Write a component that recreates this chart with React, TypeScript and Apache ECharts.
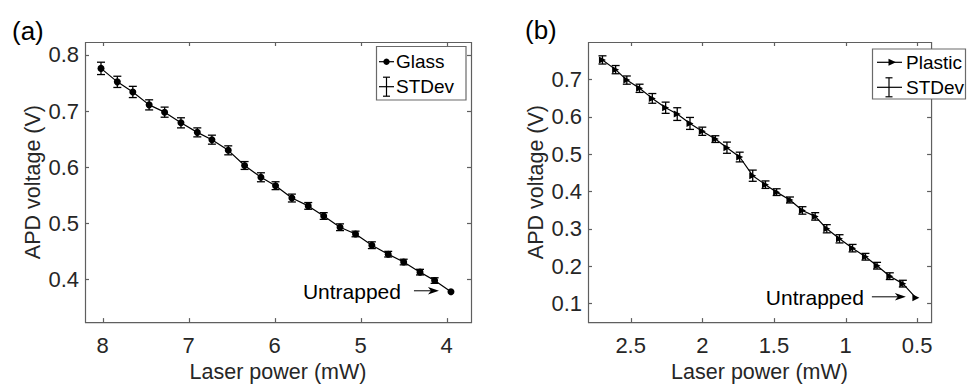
import React, { useEffect, useRef } from "react";
import * as echarts from "echarts";

// Panel (a): glass particle
const glassPower = [8.02, 7.83, 7.65, 7.46, 7.28, 7.09, 6.9, 6.73, 6.54, 6.35, 6.16, 5.99, 5.8, 5.61, 5.43, 5.24, 5.06, 4.87, 4.68, 4.5, 4.31, 4.14, 3.95];
const glassVoltage = [0.776, 0.752, 0.734, 0.711, 0.698, 0.679, 0.662, 0.649, 0.63, 0.603, 0.582, 0.567, 0.545, 0.531, 0.513, 0.493, 0.481, 0.461, 0.445, 0.431, 0.413, 0.398, 0.378];
const glassStd = [0.011, 0.01, 0.01, 0.009, 0.009, 0.009, 0.008, 0.008, 0.008, 0.007, 0.008, 0.007, 0.007, 0.006, 0.006, 0.006, 0.005, 0.006, 0.005, 0.005, 0.005, 0.005, 0.0];
const glassPowerTicks = [4, 5, 6, 7, 8];
const glassVoltageTicks = [0.4, 0.5, 0.6, 0.7, 0.8];

// Panel (b): plastic particle
const plasticPower = [2.697, 2.605, 2.527, 2.438, 2.349, 2.256, 2.175, 2.086, 2.0, 1.909, 1.828, 1.739, 1.648, 1.559, 1.481, 1.388, 1.301, 1.212, 1.131, 1.042, 0.951, 0.861, 0.78, 0.691, 0.6, 0.509];
const plasticVoltage = [0.752, 0.726, 0.698, 0.676, 0.649, 0.624, 0.607, 0.582, 0.561, 0.54, 0.517, 0.492, 0.442, 0.418, 0.398, 0.377, 0.349, 0.333, 0.3, 0.273, 0.248, 0.225, 0.201, 0.173, 0.153, 0.115];
const plasticStd = [0.011, 0.011, 0.011, 0.011, 0.013, 0.015, 0.017, 0.016, 0.011, 0.009, 0.015, 0.013, 0.015, 0.01, 0.009, 0.008, 0.01, 0.01, 0.011, 0.011, 0.01, 0.009, 0.009, 0.009, 0.009, 0.0];
const plasticPowerTicks = [0.5, 1, 1.5, 2, 2.5];
const plasticVoltageTicks = [0.1, 0.2, 0.3, 0.4, 0.5, 0.6, 0.7];

const panelLabels = ["(a)", "(b)"];
const seriesNames = ["Glass", "Plastic"];
const errorName = "STDev";
const annotationText = "Untrapped";
const xTitle = "Laser power (mW)";
const yTitle = "APD voltage (V)";

const FONT = "'Liberation Sans', Arial, Helvetica, sans-serif";
const AXIS_GRAY = "#5f5f5f";
const LEGEND_GRAY = "#6a6a6a";
const LABEL_DARK = "#262626";
const TRIANGLE = "path://M0,0L10,5L0,10Z";

const stepFormatter = (step: number) => (v: number) => {
  const r = v / step;
  return Math.abs(r - Math.round(r)) < 1e-6 ? String(+v.toFixed(2)) : "";
};

function mainAxis(gridIndex: number, min: number, max: number, step: number, split: number, isX: boolean, name: string) {
  return {
    type: "value",
    gridIndex,
    min,
    max,
    splitNumber: split,
    inverse: isX,
    position: isX ? "bottom" : "left",
    name,
    nameLocation: "middle",
    nameGap: isX ? 35 : 41,
    nameTextStyle: { fontFamily: FONT, fontSize: 21.5, color: LABEL_DARK },
    axisLine: { show: false },
    axisTick: { show: false },
    axisLabel: {
      show: true,
      showMinLabel: false,
      showMaxLabel: false,
      margin: isX ? 12 : 6,
      fontFamily: FONT,
      fontSize: 22,
      color: LABEL_DARK,
      formatter: stepFormatter(step),
    },
    splitLine: { show: false },
  };
}

// Box outline plus inward tick marks on all four sides, placed through the axes' scales
function frameSeries(xIdx: number, yIdx: number, xTicks: number[], yTicks: number[], xRef: number, yRef: number) {
  const data = [[xRef, yRef, 2], ...xTicks.map((t) => [t, yRef, 0]), ...yTicks.map((t) => [xRef, t, 1])];
  return {
    type: "custom",
    xAxisIndex: xIdx,
    yAxisIndex: yIdx,
    data,
    z: 2,
    silent: true,
    clip: false,
    renderItem: (params: any, api: any) => {
      const cs = params.coordSys;
      const style = { stroke: AXIS_GRAY, lineWidth: 1.2, fill: "none" };
      const L = 4;
      const kind = api.value(2);
      if (kind === 2) {
        return {
          type: "rect",
          shape: { x: cs.x + 0.5, y: cs.y + 0.5, width: cs.width, height: cs.height },
          style: { stroke: AXIS_GRAY, lineWidth: 1.2, fill: "none" },
        };
      }
      const p = api.coord([api.value(0), api.value(1)]);
      if (kind === 0) {
        const x = Math.round(p[0]) + 0.5;
        return {
          type: "group",
          children: [
            { type: "line", shape: { x1: x, y1: cs.y + cs.height, x2: x, y2: cs.y + cs.height - L }, style },
            { type: "line", shape: { x1: x, y1: cs.y, x2: x, y2: cs.y + L }, style },
          ],
        };
      }
      const y = Math.round(p[1]) + 0.5;
      return {
        type: "group",
        children: [
          { type: "line", shape: { x1: cs.x, y1: y, x2: cs.x + L, y2: y }, style },
          { type: "line", shape: { x1: cs.x + cs.width, y1: y, x2: cs.x + cs.width - L, y2: y }, style },
        ],
      };
    },
  };
}

function errorSeries(xIdx: number, yIdx: number, xs: number[], ys: number[], sd: number[]) {
  return {
    type: "custom",
    xAxisIndex: xIdx,
    yAxisIndex: yIdx,
    encode: { x: 0, y: [1, 2] },
    data: xs.map((x, i) => [x, ys[i] - sd[i], ys[i] + sd[i]]),
    z: 3,
    renderItem: (_params: any, api: any) => {
      const x = api.value(0);
      const top = api.coord([x, api.value(2)]);
      const bot = api.coord([x, api.value(1)]);
      if (Math.abs(top[1] - bot[1]) < 1) return { type: "group", children: [] };
      const w = 4;
      const style = { stroke: "#000", lineWidth: 1.3 };
      return {
        type: "group",
        children: [
          { type: "line", shape: { x1: top[0], y1: top[1], x2: bot[0], y2: bot[1] }, style },
          { type: "line", shape: { x1: top[0] - w, y1: top[1], x2: top[0] + w, y2: top[1] }, style },
          { type: "line", shape: { x1: bot[0] - w, y1: bot[1], x2: bot[0] + w, y2: bot[1] }, style },
        ],
      };
    },
  };
}

// "Untrapped" arrow pointing at the final data point of a panel
function annotationSeries(xIdx: number, yIdx: number, x: number, y: number, tipGap: number, len: number, textGap: number) {
  return {
    type: "custom",
    xAxisIndex: xIdx,
    yAxisIndex: yIdx,
    data: [[x, y]],
    z: 12,
    silent: true,
    renderItem: (_params: any, api: any) => {
      const p = api.coord([api.value(0), api.value(1)]);
      const tipX = p[0] - tipGap;
      const ay = p[1] - 1;
      const tailX = tipX - len;
      return {
        type: "group",
        children: [
          { type: "line", shape: { x1: tailX, y1: ay, x2: tipX - 6, y2: ay }, style: { stroke: "#000", lineWidth: 1 } },
          {
            type: "polygon",
            shape: { points: [[tipX, ay], [tipX - 11, ay - 3.8], [tipX - 8, ay], [tipX - 11, ay + 3.8]] },
            style: { fill: "#000" },
          },
          {
            type: "text",
            x: tailX - textGap,
            y: ay + 1,
            style: {
              text: annotationText,
              fontFamily: FONT,
              fontSize: 21,
              fill: "#000",
              align: "right",
              verticalAlign: "middle",
              textAlign: "right",
              textVerticalAlign: "middle",
            },
          },
        ],
      };
    },
  };
}

function legendBox(
  x: number,
  y: number,
  w: number,
  h: number,
  iconX1: number,
  iconX2: number,
  markX: number,
  row1: number,
  row2: number,
  textX: number,
  label: string,
  triangle: boolean
) {
  const black = { stroke: "#000", lineWidth: 1.2 };
  const marker = triangle
    ? { type: "polygon", shape: { points: [[markX - 3.5, row1 - 3.5], [markX + 4, row1], [markX - 3.5, row1 + 3.5]] }, style: { fill: "#000" } }
    : { type: "circle", shape: { cx: markX, cy: row1, r: 3.2 }, style: { fill: "#000" } };
  const barX = triangle ? markX - 3 : markX;
  return [
    { type: "rect", shape: { x, y, width: w, height: h }, style: { fill: "#fff", stroke: LEGEND_GRAY, lineWidth: 1.2 }, z: 10 },
    { type: "line", shape: { x1: iconX1, y1: row1, x2: iconX2, y2: row1 }, style: black, z: 11 },
    { ...marker, z: 11 },
    { type: "text", x: textX, y: row1, style: { text: label, fontFamily: FONT, fontSize: 19, fill: "#000", textAlign: "left", textVerticalAlign: "middle" }, z: 11 },
    { type: "line", shape: { x1: iconX1, y1: row2, x2: iconX2, y2: row2 }, style: black, z: 11 },
    { type: "line", shape: { x1: barX, y1: row2 - 9.5, x2: barX, y2: row2 + 9.5 }, style: black, z: 11 },
    { type: "line", shape: { x1: barX - 3.5, y1: row2 - 9.5, x2: barX + 3.5, y2: row2 - 9.5 }, style: black, z: 11 },
    { type: "line", shape: { x1: barX - 3.5, y1: row2 + 9.5, x2: barX + 3.5, y2: row2 + 9.5 }, style: black, z: 11 },
    { type: "text", x: textX, y: row2, style: { text: errorName, fontFamily: FONT, fontSize: 19, fill: "#000", textAlign: "left", textVerticalAlign: "middle" }, z: 11 },
  ];
}

export default function App() {
  const ref = useRef<HTMLDivElement>(null);

  useEffect(() => {
    if (!ref.current) return;
    const chart = echarts.init(ref.current, null, { renderer: "svg" });
    const lastG = glassPower.length - 1;
    const lastP = plasticPower.length - 1;
    const gX = [3.717, 8.206];
    const gY = [0.324, 0.823];
    const pX = [0.403, 2.798];
    const pY = [0.05, 0.8];

    const option: any = {
      animation: false,
      grid: [
        { left: 85, top: 42, width: 386, height: 286 },
        { left: 588, top: 42, width: 385, height: 286 },
      ],
      xAxis: [mainAxis(0, gX[0], gX[1], 1, 5, true, xTitle), mainAxis(1, pX[0], pX[1], 0.5, 5, true, xTitle)],
      yAxis: [mainAxis(0, gY[0], gY[1], 0.1, 5, false, yTitle), mainAxis(1, pY[0], pY[1], 0.1, 7, false, yTitle)],
      graphic: [
        { type: "text", x: 12, y: 31, style: { text: panelLabels[0], fontFamily: FONT, fontSize: 26, fill: "#000", textVerticalAlign: "middle" } },
        { type: "text", x: 525, y: 30, style: { text: panelLabels[1], fontFamily: FONT, fontSize: 26, fill: "#000", textVerticalAlign: "middle" } },
        ...legendBox(376.5, 46.5, 89.5, 53.5, 379, 394, 386.5, 61.7, 86.7, 396, seriesNames[0], false),
        ...legendBox(872.5, 49, 93, 50, 877, 902, 892, 62.3, 87.3, 906, seriesNames[1], true),
      ],
      series: [
        frameSeries(0, 0, glassPowerTicks, glassVoltageTicks, 6, 0.6),
        frameSeries(1, 1, plasticPowerTicks, plasticVoltageTicks, 1.5, 0.4),
        errorSeries(0, 0, glassPower, glassVoltage, glassStd),
        {
          type: "line",
          name: seriesNames[0],
          xAxisIndex: 0,
          yAxisIndex: 0,
          data: glassPower.map((p, i) => [p, glassVoltage[i]]),
          symbol: "circle",
          symbolSize: 7,
          showSymbol: true,
          lineStyle: { color: "#000", width: 1.2 },
          itemStyle: { color: "#000" },
          z: 4,
        },
        errorSeries(1, 1, plasticPower, plasticVoltage, plasticStd),
        {
          type: "line",
          name: seriesNames[1],
          xAxisIndex: 1,
          yAxisIndex: 1,
          data: plasticPower.map((p, i) => [p, plasticVoltage[i]]),
          symbol: TRIANGLE,
          symbolSize: [7, 7],
          showSymbol: true,
          lineStyle: { color: "#000", width: 1.2 },
          itemStyle: { color: "#000" },
          z: 4,
        },
        annotationSeries(0, 0, glassPower[lastG], glassVoltage[lastG], 12, 25, 13),
        annotationSeries(1, 1, plasticPower[lastP], plasticVoltage[lastP], 10, 34, 8),
      ],
    };
    chart.setOption(option);

    return () => chart.dispose();
  }, []);

  return <div ref={ref} style={{ position: "fixed", left: 0, top: 0, width: 974, height: 388, background: "#fff" }} />;
}
